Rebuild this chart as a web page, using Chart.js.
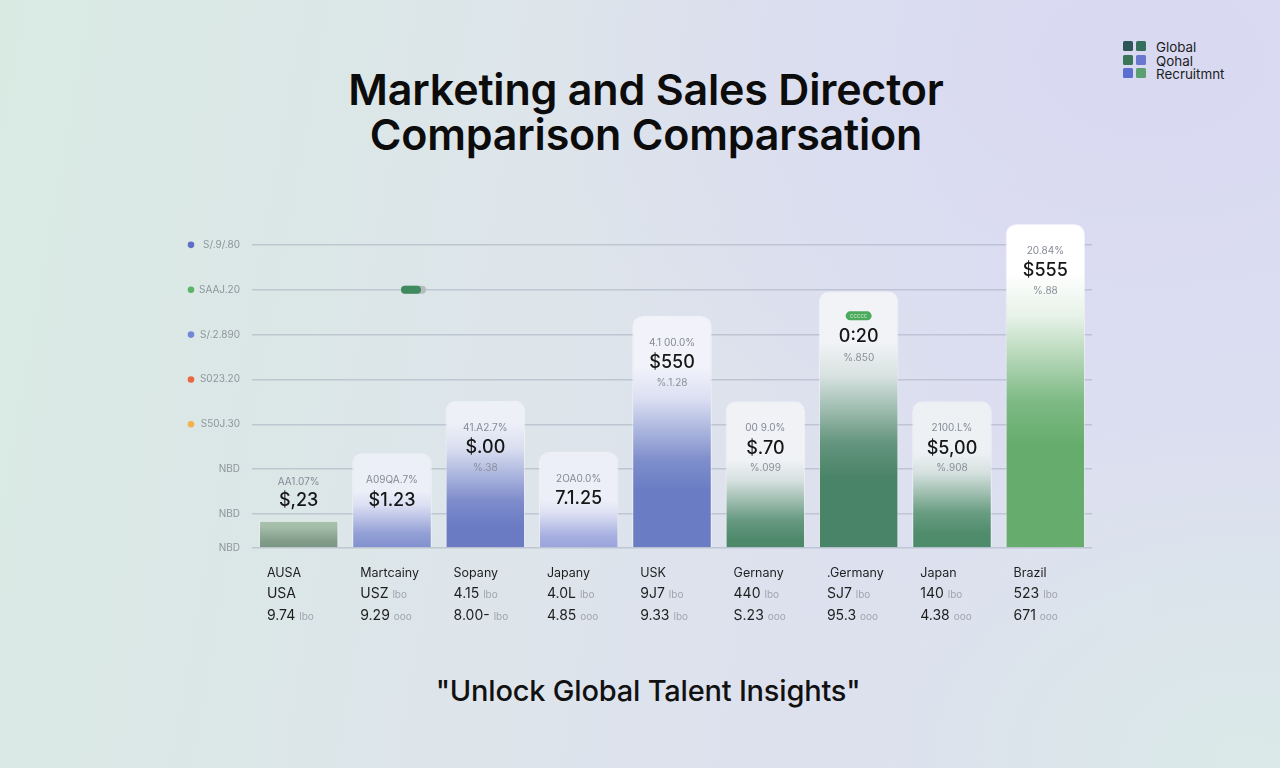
<!DOCTYPE html>
<html>
<head>
<meta charset="utf-8">
<script src="https://cdn.jsdelivr.net/npm/chart.js@4.4.1/dist/chart.umd.min.js"></script>
<style>
  html, body { margin: 0; padding: 0; }
  body {
    width: 1280px; height: 768px; overflow: hidden; position: relative;
    font-family: Inter, "Noto Sans", sans-serif;
    background:
      radial-gradient(ellipse 900px 600px at 1150px 60px, rgba(216,216,242,0.9), rgba(216,216,242,0) 70%),
      radial-gradient(ellipse 700px 500px at 1250px 760px, rgba(218,234,230,0.9), rgba(218,234,230,0) 70%),
      linear-gradient(100deg, #d9eae3 0%, #dde5ea 40%, #dddff0 75%, #dcdff1 100%);
  }
  #title {
    position: absolute; left: 12px; top: 67px; width: 1268px; text-align: center;
    font-size: 43px; font-weight: 600; line-height: 45px; color: #0c0c0c; letter-spacing: -0.2px;
  }
  #footer {
    position: absolute; left: 14px; top: 673px; width: 1268px; text-align: center;
    font-size: 29px; font-weight: 500; color: #111; letter-spacing: -0.2px;
  }
  #logo { position: absolute; left: 1123px; top: 41px; }
  #logo .sq { position: absolute; width: 10px; height: 10px; border-radius: 1.5px; }
  #logo .t { position: absolute; left: 33px; font-size: 13.4px; color: #1c1c1c; white-space: nowrap; line-height: 13px; }
  canvas { position: absolute; left: 0; top: 0; }
</style>
</head>
<body>
<div id="title">Marketing and Sales Director<br>Comparison Comparsation</div>
<div id="logo">
  <div class="sq" style="left:0;top:0;background:#2c5656"></div>
  <div class="sq" style="left:13px;top:0;background:#356f5c"></div>
  <div class="sq" style="left:0;top:14px;background:#387657"></div>
  <div class="sq" style="left:13px;top:14px;background:#6a77cf"></div>
  <div class="sq" style="left:0;top:27px;background:#5a6fd0"></div>
  <div class="sq" style="left:13px;top:27px;background:#5c9f70"></div>
  <div class="t" style="top:0">Global</div>
  <div class="t" style="top:14px">Qohal</div>
  <div class="t" style="top:27px">Recruitmnt</div>
</div>
<div id="footer">"Unlock Global Talent Insights"</div>
<canvas id="chart" width="1280" height="768"></canvas>
<script>
// categories and values
const categories = ['AUSA', 'Martcainy', 'Sopany', 'Japany', 'USK', 'Gernany', '.Germany', 'Japan', 'Brazil'];
const barHeights = [0.61, 2.11, 3.28, 2.14, 5.17, 3.27, 5.72, 3.27, 7.22];

const rowTwo = ['USA', 'USZ', '4.15', '4.0L', '9J7', '440', 'SJ7', '140', '523'];
const rowTwoUnit = ['', 'lbo', 'lbo', 'lbo', 'lbo', 'lbo', 'lbo', 'lbo', 'lbo'];
const rowThree = ['9.74', '9.29', '8.00-', '4.85', '9.33', 'S.23', '95.3', '4.38', '671'];
const rowThreeUnit = ['lbo', 'ooo', 'lbo', 'ooo', 'lbo', 'ooo', 'ooo', 'ooo', 'ooo'];

const barNotes = ['AA1.07%', 'A09QA.7%', '41.A2.7%', '2OA0.0%', '4.1 00.0%', '00 9.0%', '', '2100.L%', '20.84%'];
const barLabels = ['$,23', '$1.23', '$.00', '7.1.25', '$550', '$.70', '0:20', '$5,00', '$555'];
const barSubNotes = ['', '', '%.38', '', '%.1.28', '%.099', '%.850', '%.908', '%.88'];

const tickValues = [0, 0.757, 1.757, 2.757, 3.757, 4.757, 5.757, 6.757];
const tickLabels = ['NBD', 'NBD', 'NBD', 'S50J.30', 'S023.20', 'S/.2.890', 'SAAJ.20', 'S/.9/.80'];

// styles
const dotColors = [null, null, null, '#f2b24e', '#e8683f', '#7486d6', '#5cb466', '#5f6fc9'];
const barBottoms = ['#7a9583', '#8190cf', '#6a7bc4', '#9aa3dc', '#6a7dc4', '#4d886a', '#4a8468', '#4f8c6c', '#66ad6d'];
const barTops = ['#abc3af', '#eceef8', '#eef0f8', '#eceef8', '#f1f2fa', '#f0f2f6', '#f1f3f6', '#eef1f4', '#ffffff'];
const fadeAt = [0, 0.4, 0.15, 0.5, 0.22, 0.4, 0.2, 0.35, 0.15];
const fullAt = [1, 1, 0.85, 1, 0.75, 0.95, 0.72, 0.9, 0.68];

function mix(a, b, t) {
  const pa = [1, 3, 5].map(k => parseInt(a.substr(k, 2), 16));
  const pb = [1, 3, 5].map(k => parseInt(b.substr(k, 2), 16));
  return 'rgb(' + pa.map((v, k) => Math.round(v + (pb[k] - v) * t)).join(',') + ')';
}

function barFill(ctx) {
  const chart = ctx.chart;
  const i = ctx.dataIndex;
  if (!chart.chartArea || !chart.scales.y) return barBottoms[i];
  const y = chart.scales.y;
  const top = y.getPixelForValue(barHeights[i]);
  const bottom = y.getPixelForValue(0);
  const g = chart.ctx.createLinearGradient(0, top, 0, bottom);
  const a = fadeAt[i], b = fullAt[i];
  g.addColorStop(0, barTops[i]);
  g.addColorStop(a, barTops[i]);
  // eased blend between the light top and the coloured foot
  [0.25, 0.5, 0.75].forEach(t => {
    g.addColorStop(a + (b - a) * t, mix(barTops[i], barBottoms[i], t * t * (3 - 2 * t)));
  });
  g.addColorStop(b, barBottoms[i]);
  g.addColorStop(1, barBottoms[i]);
  return g;
}

const decorPlugin = {
  id: 'decor',
  afterDraw(chart) {
    const c = chart.ctx;
    const y = chart.scales.y;
    const bars = chart.getDatasetMeta(0).data;
    const base = y.getPixelForValue(0);
    c.save();
    // coloured dots beside the y labels
    tickValues.forEach((v, i) => {
      if (!dotColors[i]) return;
      c.fillStyle = dotColors[i];
      c.beginPath();
      c.arc(191, y.getPixelForValue(v), 3.3, 0, Math.PI * 2);
      c.fill();
    });
    // small pill sitting on the second grid line
    const py = y.getPixelForValue(tickValues[6]);
    const px = bars[1].x + 9;
    c.fillStyle = '#b4bcbc';
    c.beginPath(); c.roundRect(px, py - 4, 25, 8, 4); c.fill();
    c.fillStyle = '#3f8a5e';
    c.beginPath(); c.roundRect(px, py - 4, 20, 8, 4); c.fill();

    c.textBaseline = 'middle';
    bars.forEach((b, i) => {
      const top = b.y;
      const short = i === 0;
      c.textAlign = 'center';
      if (barNotes[i]) {
        c.font = '10px Inter, sans-serif';
        c.fillStyle = '#858a96';
        c.fillText(barNotes[i], b.x, top + (short ? -39 : 27));
      } else if (i === 6) {
        c.fillStyle = '#4caa5c';
        c.beginPath(); c.roundRect(b.x - 13, top + 20, 26, 9, 4.5); c.fill();
        c.font = '6px Inter, sans-serif';
        c.fillStyle = '#cfe9d3';
        c.fillText('ccccc', b.x, top + 24.5);
      }
      c.font = '500 18px Inter, sans-serif';
      c.fillStyle = '#161616';
      c.fillText(barLabels[i], b.x, top + (short ? -20 : (i === 6 ? 45 : 47)));
      if (barSubNotes[i]) {
        c.font = '10px Inter, sans-serif';
        c.fillStyle = '#8a8f99';
        c.fillText(barSubNotes[i], b.x, top + 67);
      }
      // the table under the axis
      const lx = b.x - b.width / 2 + 8;
      c.textAlign = 'left';
      c.font = '12.5px Inter, sans-serif';
      c.fillStyle = '#1e1e1e';
      c.fillText(categories[i], lx, base + 25);
      [[rowTwo, rowTwoUnit, 46], [rowThree, rowThreeUnit, 68]].forEach(([vals, units, dy]) => {
        c.font = '14px Inter, sans-serif';
        c.fillStyle = '#1e1e1e';
        c.fillText(vals[i], lx, base + dy);
        const w = c.measureText(vals[i]).width;
        if (units[i]) {
          c.font = '10px Inter, sans-serif';
          c.fillStyle = '#a0a5ad';
          c.fillText(units[i], lx + w + 4, base + dy + 1);
        }
      });
    });
    c.restore();
  }
};

new Chart(document.getElementById('chart'), {
  type: 'bar',
  data: {
    labels: categories,
    datasets: [{
      data: barHeights,
      backgroundColor: barFill,
      borderColor: 'rgba(255,255,255,0.55)',
      borderWidth: 1,
      borderSkipped: 'bottom',
      borderRadius: (ctx) => ctx.dataIndex === 0 ? 0 : { topLeft: 10, topRight: 10, bottomLeft: 0, bottomRight: 0 },
      barPercentage: 0.852,
      categoryPercentage: 1
    }]
  },
  options: {
    responsive: false,
    animation: false,
    layout: { padding: { left: 150, right: 188, top: 216, bottom: 220 } },
    plugins: { legend: { display: false }, tooltip: { enabled: false } },
    scales: {
      x: { display: false },
      y: {
        min: 0,
        max: 7.4,
        afterFit: (s) => { s.width = 102; },
        afterBuildTicks: (s) => { s.ticks = tickValues.map(v => ({ value: v })); },
        border: { display: false },
        grid: { color: 'rgba(160,170,185,0.5)', lineWidth: 1.4, drawTicks: false },
        ticks: {
          padding: 12,
          color: '#8d959a',
          font: { family: 'Inter', size: 10 },
          callback: (v, i) => tickLabels[i]
        }
      }
    }
  },
  plugins: [decorPlugin]
});
</script>
</body>
</html>
